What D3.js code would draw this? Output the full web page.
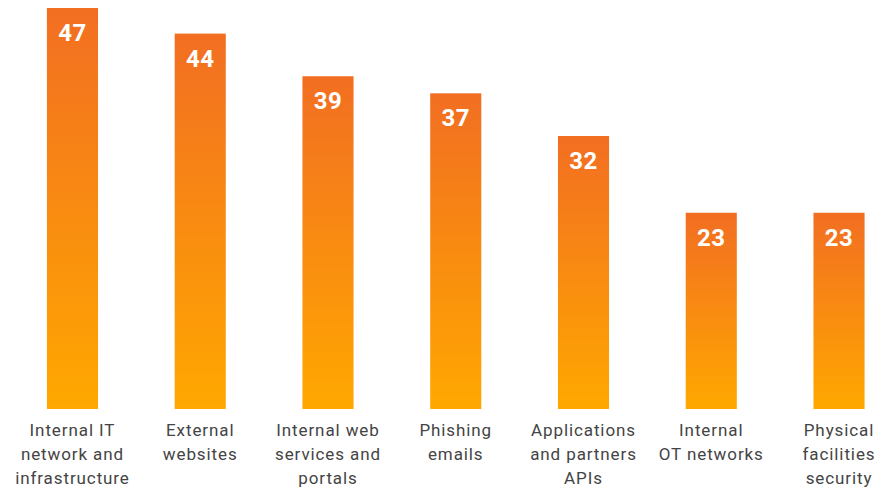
<!DOCTYPE html>
<html>
<head>
<meta charset="utf-8">
<script src="https://cdn.jsdelivr.net/npm/d3@7"></script>
<style>
  html, body { margin: 0; padding: 0; background: #fff; }
  svg { display: block; }
</style>
</head>
<body>
<svg id="chart" width="885" height="488"></svg>
<script>
// Attack surfaces and their share (%)
const categories = [
  "Internal IT network and infrastructure",
  "External websites",
  "Internal web services and portals",
  "Phishing emails",
  "Applications and partners APIs",
  "Internal OT networks",
  "Physical facilities security"
];
const labelLines = [
  ["Internal IT", "network and", "infrastructure"],
  ["External", "websites"],
  ["Internal web", "services and", "portals"],
  ["Phishing", "emails"],
  ["Applications", "and partners", "APIs"],
  ["Internal", "OT networks"],
  ["Physical", "facilities", "security"]
];
const values = [47, 44, 39, 37, 32, 23, 23];

const svg = d3.select("#chart");
const baseY = 409, topY = 8;

const x = d3.scaleBand()
  .domain(categories)
  .range([8.6, 902.9])
  .paddingInner(0.6)
  .paddingOuter(0.3);

const y = d3.scaleLinear()
  .domain([0, d3.max(values)])
  .range([baseY, topY]);

// Per-bar vertical gradient: dark orange at top, amber at the base
const defs = svg.append("defs");
const grad = defs.append("linearGradient")
  .attr("id", "barGrad")
  .attr("x1", 0).attr("y1", 0).attr("x2", 0).attr("y2", 1);
grad.append("stop").attr("offset", "0%").attr("stop-color", "#F26E22");
grad.append("stop").attr("offset", "100%").attr("stop-color", "#FFA800");

const data = categories.map((c, i) => ({ cat: c, value: values[i], lines: labelLines[i] }));

const g = svg.append("g");

g.selectAll("rect.bar")
  .data(data)
  .join("rect")
  .attr("class", "bar")
  .attr("x", d => x(d.cat))
  .attr("y", d => y(d.value))
  .attr("width", x.bandwidth())
  .attr("height", d => y(0) - y(d.value))
  .attr("fill", "url(#barGrad)");

// Value labels inside the top of each bar
g.selectAll("text.val")
  .data(data)
  .join("text")
  .attr("class", "val")
  .attr("x", d => x(d.cat) + x.bandwidth() / 2)
  .attr("y", d => y(d.value) + 33)
  .attr("text-anchor", "middle")
  .attr("fill", "#fff")
  .style("font-family", "Roboto, 'DejaVu Sans', sans-serif")
  .style("font-weight", "700")
  .style("font-size", "24px")
  .style("letter-spacing", "0.5px")
  .text(d => d.value);

// Category labels under each bar
const cats = g.selectAll("text.cat")
  .data(data)
  .join("text")
  .attr("class", "cat")
  .attr("text-anchor", "middle")
  .attr("fill", "#444")
  .style("font-family", "Roboto, 'DejaVu Sans', sans-serif")
  .style("font-weight", "400")
  .style("font-size", "17px")
  .style("letter-spacing", "0.9px");

cats.selectAll("tspan")
  .data(d => d.lines.map(l => ({ l, cx: x(d.cat) + x.bandwidth() / 2 })))
  .join("tspan")
  .attr("x", d => d.cx)
  .attr("y", (d, i) => 436 + i * 24)
  .text(d => d.l);
</script>
</body>
</html>
